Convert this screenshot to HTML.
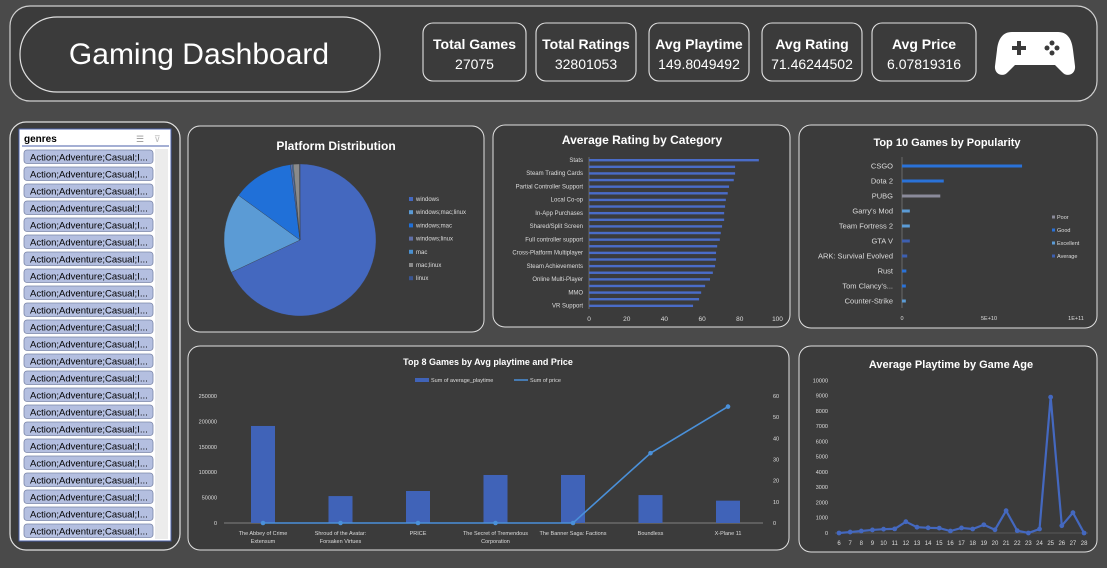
<!DOCTYPE html>
<html><head><meta charset="utf-8"><style>
html,body{margin:0;padding:0;background:#4a4a4a;}
svg{display:block;font-family:"Liberation Sans",sans-serif;}
</style></head><body>
<svg id="s" width="1107" height="568" viewBox="0 0 1107 568" xmlns="http://www.w3.org/2000/svg">
<rect x="0" y="0" width="1107" height="568" fill="#4a4a4a"/>
<g>
<rect x="10" y="6" width="1087" height="95" rx="20" fill="#3b3b3b" stroke="#cfcfcf" stroke-width="1.2"/>
<rect x="20" y="17" width="360" height="75" rx="37" fill="#3b3b3b" stroke="#e0e0e0" stroke-width="1.2"/>
<text x="199" y="64" text-anchor="middle" fill="#fff" font-size="30">Gaming Dashboard</text>
</g>
<g id="kpis"></g>
<g fill="#fff">
<path d="M1012,32 h46 c10,0 14,8 15,18 l2,16 c1,8 -8,12 -13,6 l-7,-7 h-40 l-7,7 c-5,6 -14,2 -13,-6 l2,-16 c1,-10 5,-18 15,-18z"/>
<rect x="1012" y="46" width="14" height="4" fill="#3b3b3b"/><rect x="1017" y="41" width="4" height="14" fill="#3b3b3b"/>
<circle cx="1052" cy="43" r="2.5" fill="#3b3b3b"/><circle cx="1052" cy="53" r="2.5" fill="#3b3b3b"/><circle cx="1047" cy="48" r="2.5" fill="#3b3b3b"/><circle cx="1057" cy="48" r="2.5" fill="#3b3b3b"/>
</g>
<g>
<rect x="10" y="122" width="170" height="428" rx="16" fill="#3b3b3b" stroke="#e0e0e0" stroke-width="1.2"/>
<rect x="19" y="129" width="152" height="412" fill="#fff" stroke="#4a5fa8" stroke-width="1"/>
<text x="24" y="142" font-size="10" font-weight="bold" fill="#000">genres</text>
<text x="136" y="142" font-size="9" fill="#999">☰</text>
<text x="154" y="142" font-size="9" fill="#bbb">⊽</text>
<line x1="22" y1="146" x2="169" y2="146" stroke="#4a5fa8" stroke-width="1"/>
<rect x="155" y="149" width="13" height="390" fill="#ececec"/>
<g id="slicer"></g>
</g>
<g>
<rect x="188" y="126" width="296" height="206" rx="12" fill="#3b3b3b" stroke="#e0e0e0" stroke-width="1"/>
<text x="336" y="150" text-anchor="middle" fill="#fff" font-size="12" font-weight="bold">Platform Distribution</text>
<g id="pie"></g><g id="pieleg"></g>
</g>
<g>
<rect x="493" y="125" width="297" height="202" rx="12" fill="#3b3b3b" stroke="#e0e0e0" stroke-width="1"/>
<text x="642" y="144" text-anchor="middle" fill="#fff" font-size="12" font-weight="bold">Average Rating by Category</text>
<g id="rating"></g>
</g>
<g>
<rect x="799" y="125" width="298" height="203" rx="12" fill="#3b3b3b" stroke="#e0e0e0" stroke-width="1"/>
<text x="947" y="146" text-anchor="middle" fill="#fff" font-size="11" font-weight="bold">Top 10 Games by Popularity</text>
<g id="pop"></g>
</g>
<g>
<rect x="188" y="346" width="601" height="204" rx="12" fill="#3b3b3b" stroke="#e0e0e0" stroke-width="1"/>
<text x="488" y="365" text-anchor="middle" fill="#fff" font-size="9" font-weight="bold">Top 8 Games by Avg playtime and Price</text>
<g id="combo"></g>
</g>
<g>
<rect x="799" y="346" width="298" height="206" rx="12" fill="#3b3b3b" stroke="#e0e0e0" stroke-width="1"/>
<text x="951" y="368" text-anchor="middle" fill="#fff" font-size="11" font-weight="bold">Average Playtime by Game Age</text>
<g id="age"></g>
</g>
</svg>
<script>
const NS="http://www.w3.org/2000/svg";
function mk(parent,tag,attrs,txt){const e=document.createElementNS(NS,tag);for(const k in attrs)e.setAttribute(k,attrs[k]);if(txt!==undefined)e.textContent=txt;document.getElementById(parent).appendChild(e);return e;}

// KPI data
const kpiLabels=["Total Games","Total Ratings","Avg Playtime","Avg Rating","Avg Price"];
const kpiValues=["27075","32801053","149.8049492","71.46244502","6.07819316"];
// Platform data
const platforms=["windows","windows;mac;linux","windows;mac","windows;linux","mac","mac;linux","linux"];
const platformShare=[68,17,13,0.4,0.2,1.3,0.1];
// Rating data
const ratingCats=["Stats","Steam Cloud","Steam Trading Cards","Steam Workshop","Partial Controller Support","Includes level editor","Local Co-op","Captions available","In-App Purchases","Online Co-op","Shared/Split Screen","Steam Leaderboards","Full controller support","Co-op","Cross-Platform Multiplayer","Single-player","Steam Achievements","Multi-player","Online Multi-Player","Commentary available","MMO","Valve Anti-Cheat enabled","VR Support"];
const ratingVals=[90.1,77.5,77.5,76.8,74.3,73.6,72.6,72.2,71.7,71.7,70.6,69.9,69.4,68,67.4,67.4,66.9,65.7,64.2,61.6,59.5,58.4,55.2];
const ratingTicks=[0,20,40,60,80,100];
// Popularity
const popGames=["CSGO","Dota 2","PUBG","Garry's Mod","Team Fortress 2","GTA V","ARK: Survival Evolved","Rust","Tom Clancy's...","Counter-Strike"];
const popVals=[6.9e10,2.4e10,2.2e10,0.45e10,0.45e10,0.45e10,0.3e10,0.25e10,0.22e10,0.22e10];
const popClass=["Good","Good","Poor","Excellent","Excellent","Average","Average","Good","Good","Excellent"];
const popClasses=["Poor","Good","Excellent","Average"];
const popTicks=[0,5e10,1e11];const popTickLabels=["0","5E+10","1E+11"];
// Combo
const comboGames=[["The Abbey of Crime","Extensum"],["Shroud of the Avatar:","Forsaken Virtues"],["PRICE"],["The Secret of Tremendous","Corporation"],["The Banner Saga: Factions"],["Boundless"],["X-Plane 11"]];
const comboPlaytime=[191000,53000,63000,94500,94500,55000,44000];
const comboPrice=[0,0,0,0,0,33,55];
const comboLeftTicks=[0,50000,100000,150000,200000,250000];
const comboRightTicks=[0,10,20,30,40,50,60];
// Age
const ages=[6,7,8,9,10,11,12,13,14,15,16,17,18,19,20,21,22,23,24,25,26,27,28];
const agePlaytime=[0,60,130,200,250,270,740,380,340,320,130,330,260,540,210,1460,150,0,260,8900,480,1330,0];
const ageTicks=[0,1000,2000,3000,4000,5000,6000,7000,8000,9000,10000];

// KPIs
const kx=[423,536,649,762,872],kw=[103,100,100,100,104];
kpiLabels.forEach((l,i)=>{
  const r=mk('kpis','rect',{x:kx[i],y:23,width:kw[i],height:58,rx:10,fill:'#3b3b3b',stroke:'#e0e0e0','stroke-width':1.1});
  
  const t=mk('kpis','text',{x:kx[i]+kw[i]/2,y:49,'text-anchor':'middle',fill:'#fff','font-size':14,'font-weight':'bold'},l);
  
  const v=mk('kpis','text',{x:kx[i]+kw[i]/2,y:69,'text-anchor':'middle',fill:'#fff','font-size':14},kpiValues[i]);
  
});
// Slicer
for(let i=0;i<23;i++){const y=150+i*17;if(y>530)break;
  const r=mk('slicer','rect',{x:24,y:y,width:129,height:13.5,rx:3,fill:'#b4bfe0',stroke:'#7b86a8','stroke-width':0.8});
  
  const t=mk('slicer','text',{x:30,y:y+10.5,'font-size':9.5,fill:'#000'},'Action;Adventure;Casual;I...');
  
}
// Pie
const pcol=["#4468bf","#5b9bd5","#2070d8","#6070a8","#4a90d0","#8a8a8a","#3a5590"];
const cx=300,cy=240,R=76;let tot=platformShare.reduce((a,b)=>a+b,0),acc=0;
platformShare.forEach((v,i)=>{
  const a0=acc/tot*2*Math.PI,a1=(acc+v)/tot*2*Math.PI;acc+=v;
  const p=(a)=>[cx+R*Math.sin(a),cy-R*Math.cos(a)];const [x0,y0]=p(a0),[x1,y1]=p(a1);
  const s=mk('pie','path',{d:`M${cx},${cy}L${x0},${y0}A${R},${R} 0 ${a1-a0>Math.PI?1:0} 1 ${x1},${y1}Z`,fill:pcol[i],stroke:'#3b3b3b','stroke-width':0.3});
  
  const ly=201+i*13.2;
  const lr=mk('pieleg','rect',{x:409,y:ly-4,width:4,height:4,fill:pcol[i]});
  
  const lt=mk('pieleg','text',{x:416,y:ly,'font-size':6,fill:'#ddd'},platforms[i]);
  
});
// Rating bars
const rx0=589,rx=v=>rx0+v*1.885;const ry=i=>160+i*6.62;
mk('rating','line',{x1:589,y1:157,x2:589,y2:309,stroke:'#888','stroke-width':0.6});
ratingVals.forEach((v,i)=>{
  const b=mk('rating','rect',{x:rx0,y:ry(i)-1,width:rx(v)-rx0,height:2.4,fill:'#4a6cc8'});
  
  if(i%2===0){const t=mk('rating','text',{x:583,y:ry(i)+2,'text-anchor':'end','font-size':6,fill:'#ddd'},ratingCats[i]);
  }
});
ratingTicks.forEach(t=>{const e=mk('rating','text',{x:rx(t),y:321,'text-anchor':'middle','font-size':6.5,fill:'#ddd'},t);
  });
// Popularity
const ccol={Poor:"#8a8a9a",Good:"#2a72d8",Excellent:"#5b9bd5",Average:"#3d5fb0"};
const px=v=>902+v/5e10*87;const py=i=>166+i*15;
mk('pop','line',{x1:902,y1:157,x2:902,y2:308,stroke:'#888','stroke-width':0.6});
popVals.forEach((v,i)=>{
  const b=mk('pop','rect',{x:902,y:py(i)-1.5,width:px(v)-902,height:3,fill:ccol[popClass[i]]});
  
  const t=mk('pop','text',{x:893,y:py(i)+2.5,'text-anchor':'end','font-size':7.5,fill:'#ddd'},popGames[i]);
  
});
popTicks.forEach((t,i)=>{const e=mk('pop','text',{x:px(t),y:320,'text-anchor':'middle','font-size':5.5,fill:'#ddd'},popTickLabels[i]);
  });
popClasses.forEach((c,i)=>{const y=219+i*13;
  const r=mk('pop','rect',{x:1052,y:y-3.5,width:3,height:3,fill:ccol[c]});
  const t=mk('pop','text',{x:1057,y:y,'font-size':5.5,fill:'#ddd'},c);});
// Combo
const cy0=523,cyL=v=>cy0-v/250000*127,cyR=v=>cy0-v/60*127;const cxc=i=>263+i*77.5;
mk('combo','line',{x1:224,y1:cy0,x2:763,y2:cy0,stroke:'#999','stroke-width':0.7});
comboLeftTicks.forEach(t=>{const e=mk('combo','text',{x:217,y:cyL(t)+2,'text-anchor':'end','font-size':5.5,fill:'#ddd'},t);
  });
comboRightTicks.forEach(t=>{const e=mk('combo','text',{x:773,y:cyR(t)+2,'font-size':5.5,fill:'#ddd'},t);
  });
comboPlaytime.forEach((v,i)=>{
  const b=mk('combo','rect',{x:cxc(i)-12,y:cyL(v),width:24,height:cy0-cyL(v),fill:'#4063b8'});
  
  comboGames[i].forEach((ln,j)=>{const t=mk('combo','text',{x:cxc(i),y:535+j*8,'text-anchor':'middle','font-size':5.5,fill:'#ddd'},ln);
    });
});
const pl=mk('combo','polyline',{points:comboPrice.map((v,i)=>cxc(i)+','+cyR(v)).join(' '),fill:'none',stroke:'#4a90d9','stroke-width':1.6});

comboPrice.forEach((v,i)=>{const c=mk('combo','circle',{cx:cxc(i),cy:cyR(v),r:2.3,fill:'#4a90d9'});
  });
let lr=mk('combo','rect',{x:415,y:378,width:14,height:4,fill:'#4063b8'});
let lt=mk('combo','text',{x:431,y:382,'font-size':5.5,fill:'#ddd'},'Sum of average_playtime');
let ll=mk('combo','line',{x1:514,y1:380,x2:528,y2:380,stroke:'#4a90d9','stroke-width':1.5});
let lt2=mk('combo','text',{x:530,y:382,'font-size':5.5,fill:'#ddd'},'Sum of price');
// Age line
const ax=a=>839+(a-6)*11.14,ay=v=>533-v/10000*152.7;
mk('age','line',{x1:835,y1:533,x2:1088,y2:533,stroke:'#777','stroke-width':0.6});
ageTicks.forEach(t=>{const e=mk('age','text',{x:828,y:ay(t)+2,'text-anchor':'end','font-size':5.5,fill:'#ddd'},t);
  });
ages.forEach(a=>{const e=mk('age','text',{x:ax(a),y:545,'text-anchor':'middle','font-size':6,fill:'#ddd'},a);
  });
const al=mk('age','polyline',{points:ages.map((a,i)=>ax(a)+','+ay(agePlaytime[i])).join(' '),fill:'none',stroke:'#4468bf','stroke-width':2.2});

ages.forEach((a,i)=>{const c=mk('age','circle',{cx:ax(a),cy:ay(agePlaytime[i]),r:2.4,fill:'#4468bf'});
  });
</script>
</body></html>
